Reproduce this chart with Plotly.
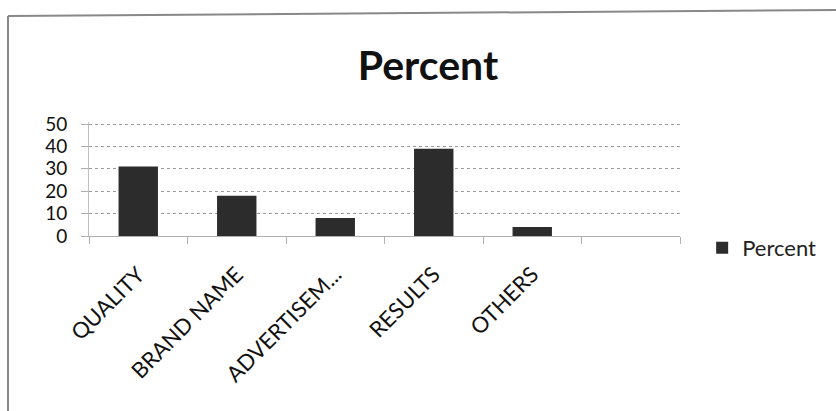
import plotly.graph_objects as go

# Share of respondents by purchase reason
categories = ["QUALITY", "BRAND NAME", "ADVERTISEM...", "RESULTS", "OTHERS", " "]
percent = [31, 18, 8, 39, 4, None]
y_ticks = [0, 10, 20, 30, 40, 50]

W, H = 836, 411
L, R, T, B = 89, 156, 122, 175

fig = go.Figure()
fig.add_trace(go.Bar(
    x=categories,
    y=percent,
    name="Percent",
    marker=dict(color="#2c2c2c", line=dict(width=0)),
    showlegend=True,
))

fig.update_layout(
    width=W,
    height=H,
    margin=dict(l=L, r=R, t=T, b=B, pad=0),
    paper_bgcolor="white",
    plot_bgcolor="white",
    bargap=0.6,
    font=dict(family="Lato, 'Open Sans', sans-serif", color="#111111"),
    title=dict(
        text="<b>Percent</b>",
        x=428 / W,
        xanchor="center",
        y=1 - 66 / H,
        yanchor="middle",
        font=dict(size=41, color="#111111"),
    ),
    legend=dict(
        x=1.0375,
        xanchor="left",
        y=-0.105,
        yanchor="middle",
        font=dict(size=22, color="#222222"),
        itemwidth=30,
        bgcolor="rgba(0,0,0,0)",
    ),
    xaxis=dict(
        type="category",
        categoryorder="array",
        categoryarray=categories,
        tickangle=-45,
        tickfont=dict(size=22),
        ticks="outside",
        tickson="boundaries",
        ticklen=7,
        tickcolor="#b0b0b0",
        ticklabelstandoff=16,
        showgrid=False,
        showline=True,
        linecolor="#b0b0b0",
        linewidth=1,
        zeroline=False,
    ),
    yaxis=dict(
        range=[0, 50.9],
        tickvals=y_ticks,
        tickfont=dict(size=19),
        ticks="outside",
        ticklen=7,
        tickcolor="#b0b0b0",
        showgrid=True,
        gridcolor="#9a9a9a",
        griddash="dot",
        gridwidth=1,
        showline=True,
        linecolor="#c0c0c0",
        linewidth=1,
        zeroline=False,
        ticklabelstandoff=10,
    ),
)

# Outer chart frame (left and top edges)
pw, ph = W - L - R, H - T - B
def px_x(v):
    return (v - L) / pw
def px_y(v):
    return (H - B - v) / ph

fig.add_shape(type="line", xref="paper", yref="paper",
              x0=px_x(8), x1=px_x(8), y0=px_y(16), y1=px_y(411),
              line=dict(color="#888888", width=2))
fig.add_shape(type="line", xref="paper", yref="paper",
              x0=px_x(8), x1=px_x(836), y0=px_y(16), y1=px_y(10),
              line=dict(color="#888888", width=2))

fig.write_html("out.html")
